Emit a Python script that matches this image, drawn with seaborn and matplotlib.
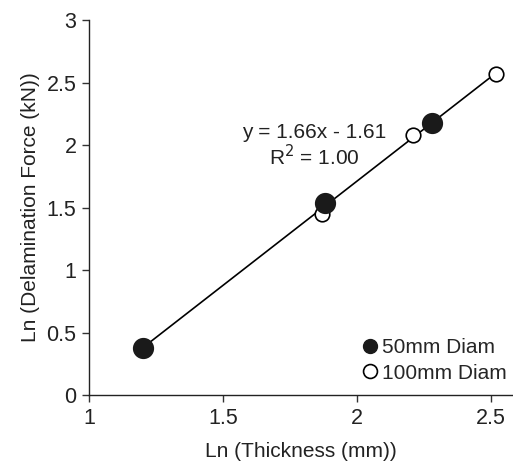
import numpy as np
import pandas as pd
import matplotlib
matplotlib.use('Agg')
import matplotlib.pyplot as plt
from matplotlib.lines import Line2D
import seaborn as sns

# 读取自图片的数据点
ln_thick_50 = [1.20, 1.88, 2.28]
ln_force_50 = [0.38, 1.54, 2.18]
ln_thick_100 = [1.87, 2.21, 2.52]
ln_force_100 = [1.45, 2.08, 2.57]

sns.set_theme(style='ticks')
plt.rcParams['font.family'] = ['Liberation Sans', 'DejaVu Sans']

df = pd.DataFrame({
    'x': ln_thick_50 + ln_thick_100,
    'y': ln_force_50 + ln_force_100,
})

fig = plt.figure(figsize=(5.13, 4.62), dpi=100)
ax = fig.add_axes([0.1735, 0.145, 0.8254, 0.8117])

# 线性拟合线
sns.regplot(data=df, x='x', y='y', ax=ax, scatter=False, ci=None,
            truncate=True, line_kws={'color': 'black', 'linewidth': 1.2})

sns.scatterplot(x=ln_thick_100, y=ln_force_100, ax=ax, s=110,
                facecolor='white', edgecolor='black', linewidth=1.2,
                zorder=3)
sns.scatterplot(x=ln_thick_50, y=ln_force_50, ax=ax, s=200,
                color='#1a1a1a', edgecolor='#1a1a1a', zorder=4)

ax.set_xlim(1, 2.58)
ax.set_ylim(0, 3)
ax.set_xticks([1, 1.5, 2, 2.5])
ax.set_xticklabels(['1', '1.5', '2', '2.5'])
ax.set_yticks([0, 0.5, 1, 1.5, 2, 2.5, 3])
ax.set_yticklabels(['0', '0.5', '1', '1.5', '2', '2.5', '3'])
ax.tick_params(labelsize=15.5, length=5, width=1, color='#333333',
               labelcolor='#222222', pad=4)
for side in ['left', 'bottom']:
    ax.spines[side].set_color('#222222')
    ax.spines[side].set_linewidth(1)
sns.despine(ax=ax)

ax.set_xlabel('Ln (Thickness (mm))', fontsize=15, color='#222222',
              labelpad=10)
ax.set_ylabel('Ln (Delamination Force (kN))', fontsize=15,
              color='#222222', labelpad=4.5)

ax.text(1.84, 1.99, 'y = 1.66x - 1.61\nR$^2$ = 1.00', ha='center',
        va='center', fontsize=15, color='#222222', linespacing=1.1)

handles = [
    Line2D([], [], marker='o', linestyle='none', markersize=10,
           markerfacecolor='#1a1a1a', markeredgecolor='#1a1a1a'),
    Line2D([], [], marker='o', linestyle='none', markersize=10,
           markerfacecolor='white', markeredgecolor='black',
           markeredgewidth=1.2),
]
ax.legend(handles, ['50mm Diam', '100mm Diam'], loc='lower right',
          bbox_to_anchor=(1.03, -0.017), frameon=False, fontsize=15,
          handletextpad=0.05, labelspacing=0.3, handlelength=1.0)

plt.savefig('out.png', dpi=100)
